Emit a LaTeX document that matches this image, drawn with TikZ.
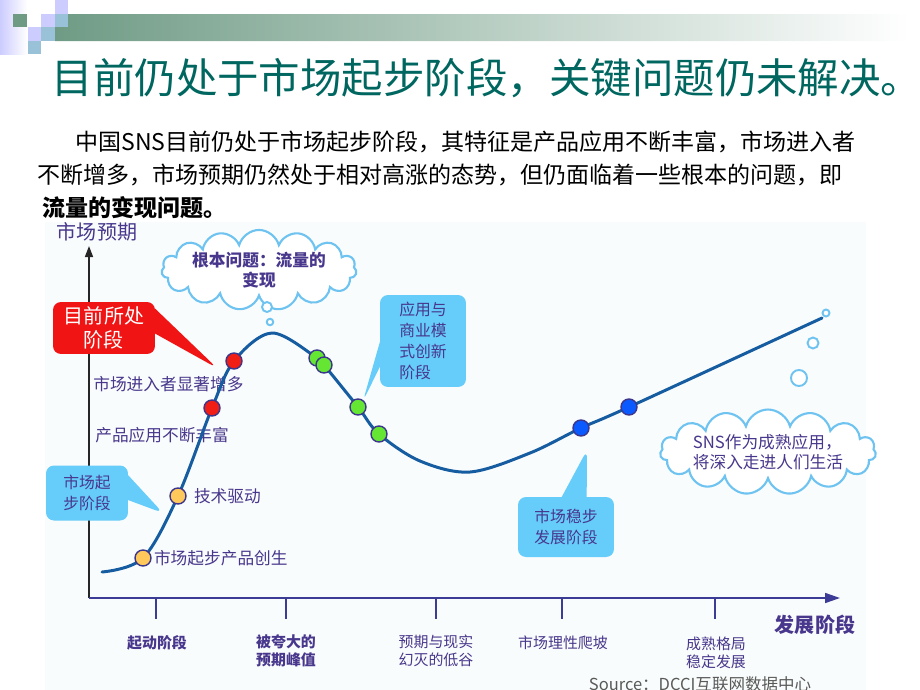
\documentclass[tikz,border=0pt]{standalone}
\usepackage{fontspec}
\setmainfont{Noto Sans CJK SC}
\usetikzlibrary{positioning,shapes.callouts,shapes.symbols,arrows.meta}

\definecolor{barGreen}{RGB}{111,155,133}
\definecolor{sqLav}{RGB}{204,204,255}
\definecolor{sqBlue}{RGB}{153,194,217}
\definecolor{titleTeal}{RGB}{0,102,96}
\definecolor{ink}{RGB}{72,55,140}
\definecolor{axisBlue}{RGB}{60,60,150}
\definecolor{curveBlue}{RGB}{22,92,160}
\definecolor{calloutBlue}{RGB}{102,204,250}
\definecolor{cloudBlue}{RGB}{110,195,240}
\definecolor{dotEdge}{RGB}{60,55,140}
\definecolor{dotOrange}{RGB}{255,200,90}
\definecolor{dotRed}{RGB}{240,30,20}
\definecolor{dotGreen}{RGB}{100,230,50}
\definecolor{dotBlue}{RGB}{10,90,255}
\definecolor{boxRed}{RGB}{240,20,20}
\definecolor{chartBg}{RGB}{249,252,252}

\tikzset{
  dot/.style={circle, draw=dotEdge, line width=0.8pt, minimum size=0.32cm, inner sep=0pt},
  lbl/.style={text=ink, font=\fontsize{9.5}{11}\selectfont, inner sep=0pt},
  axislbl/.style={text=ink, font=\fontsize{8.5}{10.5}\selectfont, align=center, inner sep=0pt},
  bubble/.style={rectangle callout, rounded corners=0.16cm, fill=calloutBlue, text=ink,
    align=left, font=\fontsize{9}{12}\selectfont, inner sep=0pt, callout pointer width=0.5cm},
  thought/.style={cloud, cloud puffs=15, cloud ignores aspect, draw=cloudBlue, line width=1.2pt,
    fill=white, text=ink, inner sep=0pt, font=\fontsize{9.5}{11.5}\selectfont},
  puff/.style={circle, draw=cloudBlue, line width=1.1pt, fill=white, inner sep=0pt},
}

\begin{document}
\begin{tikzpicture}[x=0.02cm, y=-0.02cm]
\useasboundingbox (0,0) rectangle (920,690);
% header squares and bar
\shade[left color=sqLav, right color=white] (0,0) rectangle (27,54);
\shade[left color=barGreen, right color=white] (55,27) -- (68,27) -- (68,14) -- (910,14) -- (910,41) -- (55,41) -- cycle;
\fill[barGreen] (13,14) rectangle (27,27);
\fill[sqLav] (55,0) rectangle (68,14);
\fill[sqLav] (41,14) rectangle (55,27);
\fill[sqBlue] (55,14) rectangle (68,27);
\fill[sqLav] (28,27) rectangle (41,41);
\fill[sqBlue] (41,27) rectangle (55,41);
\fill[sqBlue] (28,41) rectangle (41,54);

\node[text=titleTeal, font=\fontsize{23.6}{25}\selectfont] (title) at (487,78) {目前仍处于市场起步阶段，关键问题仍未解决。};

\node[anchor=west, font=\fontsize{13.1}{15}\selectfont, inner sep=0pt] (para1) at (75,142) {中国SNS目前仍处于市场起步阶段，其特征是产品应用不断丰富，市场进入者};
\node[anchor=west, font=\fontsize{13.1}{15}\selectfont, inner sep=0pt] (para2) at (37,175) {不断增多，市场预期仍然处于相对高涨的态势，但仍面临着一些根本的问题，即};
\node[anchor=west, font=\bfseries\fontsize{13.1}{15}\selectfont, inner sep=0pt] (para3) at (42,208) {流量的变现问题。};

% chart
\fill[chartBg] (45,222) rectangle (866,690);

\coordinate (origin) at (89,598);
\coordinate (ytop) at (89,246);
\coordinate (xend) at (840,598);
\draw[line width=0.9pt, black!85, -{Triangle[length=0.22cm, width=0.16cm]}] (origin) -- (ytop);
\draw[line width=0.9pt, axisBlue, -{Triangle[length=0.3cm, width=0.2cm]}] (origin) -- (xend);
\foreach \tx in {156,286,436,562,715}
  \draw[line width=0.9pt, axisBlue] (\tx,598) -- (\tx,619);

\node[text=ink, font=\fontsize{11.4}{13}\selectfont, inner sep=0pt] (ylabel) at (97,232) {市场预期};
\node[text=ink, font=\bfseries\fontsize{11.4}{13}\selectfont, inner sep=0pt] (xlabel) at (815,625) {发展阶段};

\node[axislbl, font=\bfseries\fontsize{8.5}{10.5}\selectfont] (stage1) at (157,643) {起动阶段};
\node[axislbl, font=\bfseries\fontsize{8.5}{10.5}\selectfont] (stage2) at (286,651) {被夸大的\\预期峰值};
\node[axislbl] (stage3) at (436,651) {预期与现实\\幻灭的低谷};
\node[axislbl] (stage4) at (563,643) {市场理性爬坡};
\node[axislbl] (stage5) at (716,653) {成熟格局\\稳定发展};
\node[text=black!65, font=\fontsize{9.4}{11}\selectfont, inner sep=0pt] (source) at (700,684) {Source：DCCI互联网数据中心};

\node[lbl, anchor=west] (lblEntrants) at (93,384) {市场进入者显著增多};
\node[lbl, anchor=west] (lblRich) at (95,435) {产品应用不断丰富};

% hype curve
\coordinate (c0) at (102,572);
\coordinate (p1) at (143,558);
\coordinate (p2) at (178,496);
\coordinate (p3) at (212,408);
\coordinate (p4) at (234,361);
\coordinate (pk) at (272,333);
\coordinate (p5) at (317,358);
\coordinate (p6) at (324,365);
\coordinate (p7) at (358,407);
\coordinate (p8) at (379,434);
\coordinate (v1) at (420,461);
\coordinate (tr) at (470,472);
\coordinate (v2) at (530,453);
\coordinate (p9) at (581,428);
\coordinate (p10) at (629,407);
\coordinate (cEnd) at (822,318);
\draw[curveBlue, line width=1.7pt, line cap=round] plot[smooth, tension=0.55] coordinates {(c0) (p1) (p2) (p3) (p4) (pk) (p5) (p6) (p7) (p8) (v1) (tr) (v2) (p9) (p10) (cEnd)};

\node[dot, fill=dotOrange] (o1) at (p1) {};
\node[dot, fill=dotOrange] (o2) at (p2) {};
\node[dot, fill=dotRed] (r1) at (p3) {};
\node[dot, fill=dotRed] (r2) at (p4) {};
\node[dot, fill=dotGreen] (g1) at (p5) {};
\node[dot, fill=dotGreen] (g2) at (p6) {};
\node[dot, fill=dotGreen] (g3) at (p7) {};
\node[dot, fill=dotGreen] (g4) at (p8) {};
\node[dot, fill=dotBlue] (b1) at (p9) {};
\node[dot, fill=dotBlue] (b2) at (p10) {};

\node[lbl, right=0.04cm of o1] (lblBirth) {市场起步产品创生};
\node[lbl, right=0.14cm of o2] (lblTech) {技术驱动};

% callouts
\coordinate (tipNow) at (217,368);
\coordinate (tipStart) at (163,513);
\coordinate (tipInnov) at (363,401);
\coordinate (tipSteady) at (587,450);
\node[bubble, fill=boxRed, text=white, align=center, font=\fontsize{11.4}{14}\selectfont,
  minimum width=2.04cm, minimum height=1.04cm, callout absolute pointer={(tipNow)}] (nowBox) at (104,328) {目前所处\\阶段};
\node[bubble, minimum width=1.64cm, minimum height=1.1cm, callout absolute pointer={(tipStart)}] (startBox) at (87,493) {市场起\\步阶段};
\node[bubble, minimum width=1.72cm, minimum height=1.84cm, callout absolute pointer={(tipInnov)}] (innovBox) at (423,341) {应用与\\商业模\\式创新\\阶段};
\node[bubble, minimum width=1.92cm, minimum height=1.2cm, callout absolute pointer={(tipSteady)}] (steadyBox) at (566,527) {市场稳步\\发展阶段};

% thought clouds
\node[thought, align=center, font=\bfseries\fontsize{9.5}{11.5}\selectfont, minimum width=3.9cm, minimum height=1.05cm] (cloudKey) at (259,270) {根本问题：流量的\\变现};
\node[puff, minimum size=0.2cm] (kp1) at (267,307) {};
\node[puff, minimum size=0.13cm] (kp2) at (270,322) {};
\node[thought, align=left, minimum width=3.9cm, minimum height=1.7cm] (cloudFuture) at (768,452) {SNS作为成熟应用，\\将深入走进人们生活};
\node[puff, minimum size=0.32cm] (fp1) at (799,378) {};
\node[puff, minimum size=0.22cm] (fp2) at (813,343) {};
\node[puff, minimum size=0.14cm] (fp3) at (826,313) {};
\end{tikzpicture}
\end{document}
